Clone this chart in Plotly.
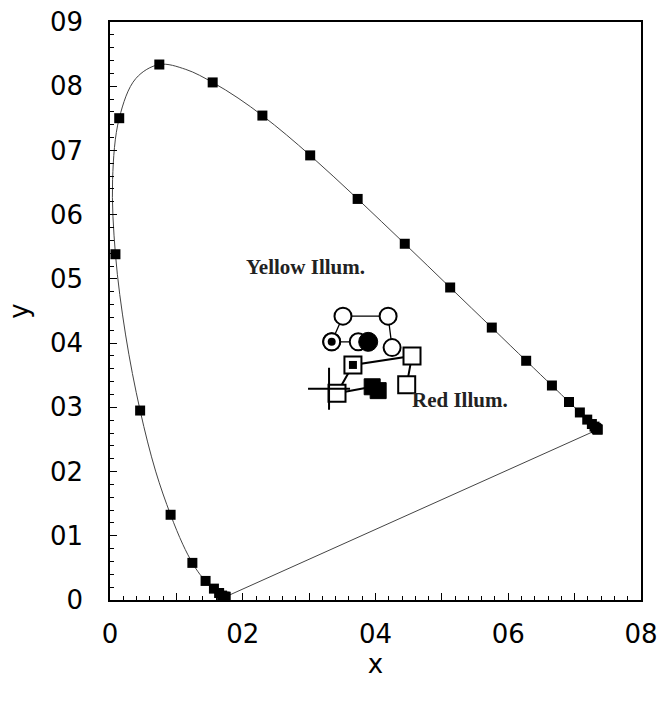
import plotly.graph_objects as go

# CIE 1931 spectral locus (5 nm) used for the line
locus_x = [0.1741, 0.1740, 0.1738, 0.1736, 0.1733, 0.1730, 0.1726, 0.1721, 0.1714, 0.1703,
           0.1689, 0.1669, 0.1644, 0.1611, 0.1566, 0.1510, 0.1440, 0.1355, 0.1241, 0.1096,
           0.0913, 0.0687, 0.0454, 0.0235, 0.0082, 0.0039, 0.0139, 0.0389, 0.0743, 0.1142,
           0.1547, 0.1929, 0.2296, 0.2658, 0.3016, 0.3373, 0.3731, 0.4087, 0.4441, 0.4788,
           0.5125, 0.5448, 0.5752, 0.6029, 0.6270, 0.6482, 0.6658, 0.6801, 0.6915, 0.7006,
           0.7079, 0.7140, 0.7190, 0.7230, 0.7260, 0.7283, 0.7300, 0.7311, 0.7320, 0.7327,
           0.7334, 0.7340, 0.7344, 0.7346, 0.7347]
locus_y = [0.0050, 0.0050, 0.0049, 0.0049, 0.0048, 0.0048, 0.0048, 0.0048, 0.0051, 0.0058,
           0.0069, 0.0086, 0.0109, 0.0138, 0.0177, 0.0227, 0.0297, 0.0399, 0.0578, 0.0868,
           0.1327, 0.2007, 0.2950, 0.4127, 0.5384, 0.6548, 0.7502, 0.8120, 0.8338, 0.8262,
           0.8059, 0.7816, 0.7543, 0.7243, 0.6923, 0.6589, 0.6245, 0.5896, 0.5547, 0.5202,
           0.4866, 0.4544, 0.4242, 0.3965, 0.3725, 0.3514, 0.3340, 0.3197, 0.3083, 0.2993,
           0.2920, 0.2859, 0.2809, 0.2770, 0.2740, 0.2717, 0.2700, 0.2689, 0.2680, 0.2673,
           0.2666, 0.2660, 0.2656, 0.2654, 0.2653]

# markers every 10 nm (380..700)
mark_x = locus_x[::2]
mark_y = locus_y[::2]

# purple line (700 nm back to 380 nm)
purple_x = [locus_x[-1], locus_x[0]]
purple_y = [locus_y[-1], locus_y[0]]

# Yellow illumination (circles)
yel_x = [0.374, 0.334, 0.351, 0.419, 0.425]
yel_y = [0.402, 0.402, 0.442, 0.442, 0.393]
yel_dot_x = [0.334]
yel_dot_y = [0.402]
yel_fill_x = [0.389]
yel_fill_y = [0.402]

# Red illumination (squares)
red_x = [0.395, 0.342, 0.366, 0.455, 0.447]
red_y = [0.332, 0.322, 0.366, 0.380, 0.335]
red_dbl_x = [0.366]
red_dbl_y = [0.366]
red_fill_x = [0.395, 0.404]
red_fill_y = [0.332, 0.326]
plus_x = [0.330]
plus_y = [0.329]

x_ticks = [0, 0.1, 0.2, 0.3, 0.4, 0.5, 0.6, 0.7, 0.8]
x_text = ["0", "", "02", "", "04", "", "06", "", "08"]
y_ticks = [0, 0.1, 0.2, 0.3, 0.4, 0.5, 0.6, 0.7, 0.8, 0.9]
y_text = ["0", "01", "02", "03", "04", "05", "06", "07", "08", "09"]

fig = go.Figure()
fig.add_trace(go.Scatter(x=locus_x, y=locus_y, mode="lines",
                         line=dict(color="#444", width=1, shape="spline", smoothing=1.0),
                         hoverinfo="skip"))
fig.add_trace(go.Scatter(x=purple_x, y=purple_y, mode="lines",
                         line=dict(color="#444", width=1), hoverinfo="skip"))
fig.add_trace(go.Scatter(x=mark_x, y=mark_y, mode="markers",
                         marker=dict(symbol="square", size=10, color="black")))
fig.add_trace(go.Scatter(x=yel_x, y=yel_y, mode="lines+markers",
                         line=dict(color="black", width=1.3),
                         marker=dict(symbol="circle", size=17, color="white",
                                     line=dict(color="black", width=2))))
fig.add_trace(go.Scatter(x=yel_fill_x, y=yel_fill_y, mode="markers",
                         marker=dict(symbol="circle", size=19, color="black",
                                     line=dict(color="black", width=1))))
fig.add_trace(go.Scatter(x=yel_dot_x, y=yel_dot_y, mode="markers",
                         marker=dict(symbol="circle", size=17, color="white",
                                     line=dict(color="black", width=2))))
fig.add_trace(go.Scatter(x=yel_dot_x, y=yel_dot_y, mode="markers",
                         marker=dict(symbol="circle", size=8, color="black")))
fig.add_trace(go.Scatter(x=red_x, y=red_y, mode="lines",
                         line=dict(color="black", width=2)))
fig.add_trace(go.Scatter(x=red_x[1:], y=red_y[1:], mode="markers",
                         marker=dict(symbol="square", size=17, color="white",
                                     line=dict(color="black", width=2))))
fig.add_trace(go.Scatter(x=red_dbl_x, y=red_dbl_y, mode="markers",
                         marker=dict(symbol="square", size=8, color="black")))
fig.add_trace(go.Scatter(x=red_fill_x, y=red_fill_y, mode="markers",
                         marker=dict(symbol="square", size=16, color="black",
                                     line=dict(color="black", width=1))))
fig.add_trace(go.Scatter(x=plus_x, y=plus_y, mode="markers",
                         marker=dict(symbol="cross-thin", size=30,
                                     line=dict(color="black", width=2))))

fig.add_annotation(x=0.294, y=0.519, text="<b>Yellow Illum.</b>", showarrow=False,
                   font=dict(family="Liberation Serif", size=21, color="#222"))
fig.add_annotation(x=0.527, y=0.311, text="<b>Red Illum.</b>", showarrow=False,
                   font=dict(family="Liberation Serif", size=21, color="#222"))

axis_common = dict(showgrid=False, zeroline=False, showline=True, linecolor="black",
                   linewidth=1.5, mirror=True, ticks="inside", tickcolor="black",
                   ticklen=7, tickwidth=1, automargin=False,
                   tickfont=dict(family="DejaVu Sans", size=26, color="black"),
                   minor=dict(ticks="inside", ticklen=4, tickcolor="black", dtick=0.02))

fig.update_xaxes(range=[0, 0.8], tickvals=x_ticks, ticktext=x_text,
                 title=dict(text="x", font=dict(family="DejaVu Sans", size=26, color="black"),
                            standoff=2),
                 ticklabelstandoff=10, **axis_common)
fig.update_yaxes(range=[0, 0.9], tickvals=y_ticks, ticktext=y_text,
                 title=dict(text="y", font=dict(family="DejaVu Sans", size=26, color="black"),
                            standoff=14),
                 ticklabelstandoff=20, **axis_common)

fig.update_layout(width=659, height=702, showlegend=False,
                  plot_bgcolor="white", paper_bgcolor="white",
                  margin=dict(l=110, r=18, t=22, b=102))

fig.write_html("out.html")
